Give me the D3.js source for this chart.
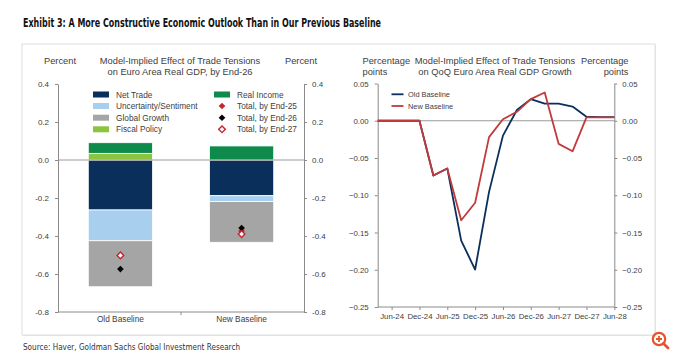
<!DOCTYPE html>
<html><head><meta charset="utf-8">
<script src="https://cdn.jsdelivr.net/npm/d3@7"></script>
<style>
html,body{margin:0;padding:0;background:#fff;}
svg{display:block;font-family:"Liberation Sans",Arial,sans-serif;}
</style></head>
<body><svg id="c" width="680" height="360"></svg>
<script>
// ---------- DATA ----------
const categories = ["Old Baseline", "New Baseline"];
const netTrade     = [-0.263, -0.188];
const uncertainty  = [-0.162, -0.031];
const globalGrowth = [-0.242, -0.214];
const fiscalPolicy = [0.035, 0.0];
const realIncome   = [0.056, 0.074];
const totalEnd25   = [-0.500, -0.374];
const totalEnd26   = [-0.574, -0.358];
const totalEnd27   = [-0.502, -0.390];
const leftTicks    = [0.4, 0.2, 0.0, -0.2, -0.4, -0.6, -0.8];

const quarters = ["Mar-24","Jun-24","Sep-24","Dec-24","Mar-25","Jun-25","Sep-25","Dec-25","Mar-26","Jun-26","Sep-26","Dec-26","Mar-27","Jun-27","Sep-27","Dec-27","Mar-28","Jun-28"];
const oldBaseline = [0,0,0,0,-0.0735,-0.064,-0.161,-0.1997,-0.0955,-0.020,0.0144,0.029,0.023,0.023,0.019,0.0054,0.005,0.005];
const newBaseline = [0,0,0,0,-0.0735,-0.064,-0.1336,-0.110,-0.022,0.002,0.012,0.029,0.038,-0.031,-0.041,0.0045,0.0045,0.0045];
const xTickLabels = ["Jun-24","Dec-24","Jun-25","Dec-25","Jun-26","Dec-26","Jun-27","Dec-27","Jun-28"];
const rightTicks  = [0.05, 0.0, -0.05, -0.10, -0.15, -0.20, -0.25];

// ---------- STYLE ----------
const col = {net:"#0b2f5b", unc:"#a8d0ee", glob:"#a5a5a5", fisc:"#8cc43f", inc:"#0e8a4b",
             red:"#c1272d", line:"#c13a3c", axis:"#8a8a8a", text:"#404040"};
const svg = d3.select("#c");

// title & source
svg.append("text").attr("x",23).attr("y",27).attr("font-family","'Liberation Sans Narrow','DejaVu Sans Condensed','Liberation Sans',sans-serif")
  .attr("font-weight","bold").attr("font-size",11.5).attr("fill","#111")
  .attr("textLength",358).attr("lengthAdjust","spacingAndGlyphs")
  .text("Exhibit 3: A More Constructive Economic Outlook Than in Our Previous Baseline");
svg.append("text").attr("x",23).attr("y",349.5).attr("font-family","'Liberation Sans Narrow','DejaVu Sans Condensed','Liberation Sans',sans-serif")
  .attr("font-size",9.5).attr("fill","#333")
  .attr("textLength",217).attr("lengthAdjust","spacingAndGlyphs")
  .text("Source: Haver, Goldman Sachs Global Investment Research");

// panel
svg.append("rect").attr("x",23).attr("y",45).attr("width",633).attr("height",291).attr("fill","#e9e9e9");
svg.append("rect").attr("x",22).attr("y",44).attr("width",633).attr("height",291).attr("fill","#fff").attr("stroke","#dedede").attr("stroke-width",1);

// magnifier icon
const ic = svg.append("g").attr("transform","translate(659,339)");
ic.append("circle").attr("r",6.2).attr("fill","none").attr("stroke","#e8532b").attr("stroke-width",2.2);
ic.append("path").attr("d","M-3,0H3M0,-3V3").attr("stroke","#e8532b").attr("stroke-width",1.8);
ic.append("path").attr("d","M4.5,4.5L9,9").attr("stroke","#e8532b").attr("stroke-width",2.8).attr("stroke-linecap","round");

function styleAxis(g){
  g.select(".domain").attr("stroke",col.axis);
  g.selectAll(".tick line").attr("stroke",col.axis);
  g.selectAll(".tick text").attr("fill",col.text);
}

// ---------- LEFT CHART ----------
const L = {x0:58, x1:304, yTop:84, yBot:312};
const yL = d3.scaleLinear().domain([-0.8,0.4]).range([L.yBot,L.yTop]);
const xL = d3.scaleBand().domain(categories).range([L.x0,L.x1]).paddingInner(0.47).paddingOuter(0.25);
const fmtL = d => d3.format(".1f")(d).replace("−","-");

const gL = svg.append("g");
gL.append("g").attr("transform",`translate(${L.x0},0)`)
  .call(d3.axisLeft(yL).tickValues(leftTicks).tickSize(3).tickSizeOuter(0).tickPadding(6).tickFormat(fmtL))
  .call(g=>g.attr("font-size",8).attr("font-family",null)).call(styleAxis);
gL.append("g").attr("transform",`translate(${L.x1},0)`)
  .call(d3.axisRight(yL).tickValues(leftTicks).tickSize(3).tickSizeOuter(0).tickPadding(5).tickFormat(fmtL))
  .call(g=>g.attr("font-size",8).attr("font-family",null)).call(styleAxis);
// bottom axis
gL.append("line").attr("x1",L.x0).attr("x2",L.x1).attr("y1",L.yBot).attr("y2",L.yBot).attr("stroke",col.axis);
const midX = (xL(categories[0])+xL.bandwidth()+xL(categories[1]))/2;
gL.append("line").attr("x1",midX).attr("x2",midX).attr("y1",L.yBot).attr("y2",L.yBot+3).attr("stroke",col.axis);
gL.selectAll("text.cat").data(categories).enter().append("text").attr("class","cat")
  .attr("x",d=>xL(d)+xL.bandwidth()/2).attr("y",L.yBot+9.5).attr("text-anchor","middle")
  .attr("font-size",8.3).attr("fill",col.text).text(d=>d);

// stacked bars
const keys = ["net","unc","glob","fisc","inc"];
const seriesVals = {net:netTrade, unc:uncertainty, glob:globalGrowth, fisc:fiscalPolicy, inc:realIncome};
const rows = categories.map((c,i)=>{const r={cat:c}; keys.forEach(k=>r[k]=seriesVals[k][i]); return r;});
const stacked = d3.stack().keys(keys).offset(d3.stackOffsetDiverging)(rows);
stacked.forEach(s=>{
  gL.append("g").selectAll("rect").data(s).enter().append("rect")
    .attr("x",d=>xL(d.data.cat)).attr("width",xL.bandwidth())
    .attr("y",d=>yL(Math.max(d[0],d[1]))).attr("height",d=>Math.abs(yL(d[0])-yL(d[1])))
    .attr("fill",col[s.key]).attr("stroke","#fff").attr("stroke-width",d=>Math.abs(d[1]-d[0])>0?0.8:0);
});
// zero line
gL.append("line").attr("x1",L.x0).attr("x2",L.x1).attr("y1",yL(0)).attr("y2",yL(0)).attr("stroke","#9a9a9a").attr("stroke-width",1);

// markers
const diamond = d3.symbol(d3.symbolSquare, 22);
function marker(g,x,y,type){
  const p = g.append("path").attr("d",diamond()).attr("transform",`translate(${x},${y}) rotate(45)`);
  if(type==="e25") p.attr("fill",col.red);
  else if(type==="e26") p.attr("fill","#000");
  else p.attr("fill","#fff").attr("stroke",col.red).attr("stroke-width",1.4);
}
categories.forEach((c,i)=>{
  const cx = xL(c)+xL.bandwidth()/2;
  marker(gL,cx,yL(totalEnd25[i]),"e25");
  marker(gL,cx,yL(totalEnd26[i]),"e26");
  marker(gL,cx,yL(totalEnd27[i]),"e27");
});

// titles
const tF = 9.3;
gL.append("text").attr("x",60).attr("y",63.5).attr("text-anchor","middle").attr("font-size",tF).attr("fill",col.text).text("Percent");
gL.append("text").attr("x",301).attr("y",63.5).attr("text-anchor","middle").attr("font-size",tF).attr("fill",col.text).text("Percent");
gL.append("text").attr("x",180).attr("y",63.5).attr("text-anchor","middle").attr("font-size",tF).attr("fill",col.text).text("Model-Implied Effect of Trade Tensions");
gL.append("text").attr("x",180).attr("y",75).attr("text-anchor","middle").attr("font-size",tF).attr("fill",col.text).text("on Euro Area Real GDP, by End-26");

// legend
const legA = [["Net Trade","net"],["Uncertainty/Sentiment","unc"],["Global Growth","glob"],["Fiscal Policy","fisc"]];
const legB = [["Real Income","inc"],["Total, by End-25","e25"],["Total, by End-26","e26"],["Total, by End-27","e27"]];
const legY = [94.5,106,117.7,129.3];
legA.forEach((d,i)=>{
  gL.append("rect").attr("x",93).attr("y",legY[i]-3).attr("width",16).attr("height",6).attr("fill",col[d[1]]);
  gL.append("text").attr("x",116).attr("y",legY[i]+3).attr("font-size",8.3).attr("fill",col.text).text(d[0]);
});
legB.forEach((d,i)=>{
  if(d[1]==="inc") gL.append("rect").attr("x",214).attr("y",legY[i]-3).attr("width",16).attr("height",6).attr("fill",col.inc);
  else marker(gL,222,legY[i],d[1]);
  gL.append("text").attr("x",237).attr("y",legY[i]+3).attr("font-size",8.3).attr("fill",col.text).text(d[0]);
});

// ---------- RIGHT CHART ----------
const R = {x0:377.7, x1:614.3, yTop:83.5, yBot:307};
const yR = d3.scaleLinear().domain([-0.25,0.05]).range([R.yBot,R.yTop]);
const xR = d3.scalePoint().domain(quarters).range([R.x0,R.x1]);
const gR = svg.append("g");
gR.append("g").attr("transform",`translate(${R.x0},0)`)
  .call(d3.axisLeft(yR).tickValues(rightTicks).tickSize(3).tickSizeOuter(0).tickPadding(6).tickFormat(d3.format(".2f")))
  .call(g=>g.attr("font-size",7.8).attr("font-family",null)).call(styleAxis);
gR.append("g").attr("transform",`translate(${R.x1},0)`)
  .call(d3.axisRight(yR).tickValues(rightTicks).tickSize(3).tickSizeOuter(0).tickPadding(5).tickFormat(d3.format(".2f")))
  .call(g=>g.attr("font-size",7.8).attr("font-family",null)).call(styleAxis);
gR.append("g").attr("transform",`translate(0,${R.yBot})`)
  .call(d3.axisBottom(xR).tickValues(xTickLabels).tickSize(3).tickSizeOuter(0).tickPadding(3))
  .call(g=>g.attr("font-size",7.8).attr("font-family",null)).call(styleAxis)
  .call(g=>g.select(".domain").attr("d",`M${R.x0},0H${R.x1}`));
gR.append("line").attr("x1",R.x0).attr("x2",R.x1).attr("y1",yR(0)).attr("y2",yR(0)).attr("stroke","#9a9a9a").attr("stroke-width",1);

const lineGen = d3.line().x((d,i)=>xR(quarters[i])).y(d=>yR(d));
gR.append("path").datum(oldBaseline).attr("d",lineGen).attr("fill","none").attr("stroke",col.net).attr("stroke-width",1.8).attr("stroke-linejoin","round");
gR.append("path").datum(newBaseline).attr("d",lineGen).attr("fill","none").attr("stroke",col.line).attr("stroke-width",1.8).attr("stroke-linejoin","round");

gR.append("text").attr("x",362.5).attr("y",63.5).attr("font-size",tF).attr("fill",col.text).text("Percentage");
gR.append("text").attr("x",362.5).attr("y",75).attr("font-size",tF).attr("fill",col.text).text("points");
gR.append("text").attr("x",628.5).attr("y",63.5).attr("text-anchor","end").attr("font-size",tF).attr("fill",col.text).text("Percentage");
gR.append("text").attr("x",628.5).attr("y",75).attr("text-anchor","end").attr("font-size",tF).attr("fill",col.text).text("points");
gR.append("text").attr("x",495).attr("y",63.5).attr("text-anchor","middle").attr("font-size",tF).attr("fill",col.text).text("Model-Implied Effect of Trade Tensions");
gR.append("text").attr("x",495).attr("y",75).attr("text-anchor","middle").attr("font-size",tF).attr("fill",col.text).text("on QoQ Euro Area Real GDP Growth");

const legR = [["Old Baseline",col.net,94.3],["New Baseline",col.line,106]];
legR.forEach(d=>{
  gR.append("line").attr("x1",391.5).attr("x2",403.5).attr("y1",d[2]).attr("y2",d[2]).attr("stroke",d[1]).attr("stroke-width",1.8);
  gR.append("text").attr("x",408).attr("y",d[2]+2.7).attr("font-size",7.4).attr("fill",col.text).text(d[0]);
});
</script></body></html>
